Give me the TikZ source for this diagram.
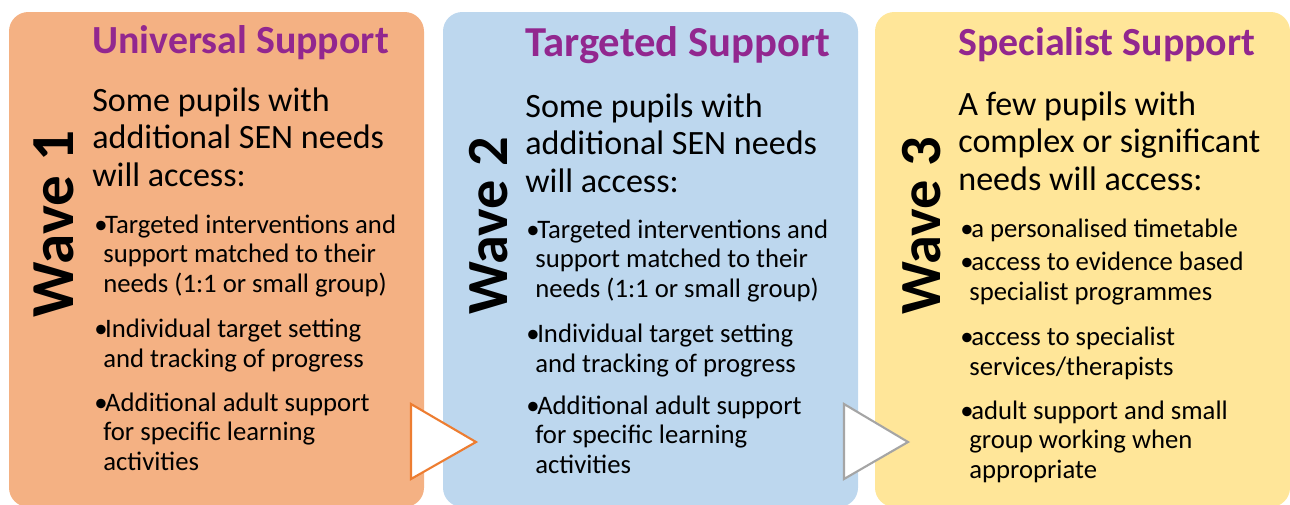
\documentclass[tikz,border=0pt]{standalone}
\usepackage{fontspec}
\setmainfont{Carlito}
\usepackage{tikz}

\definecolor{uniorange}{HTML}{F4B183}
\definecolor{tarblue}{HTML}{BDD7EE}
\definecolor{specyellow}{HTML}{FFE699}
\definecolor{headpurple}{HTML}{92278F}
\definecolor{arrorange}{HTML}{ED7D31}
\definecolor{arrgrey}{HTML}{A5A5A5}

\newcommand{\bul}{\makebox[6.2pt][l]{\textbullet}}
\newcommand{\ind}{\hspace*{5.1pt}}

\tikzset{
	panel/.style={rounded corners=11pt},
	heading/.style={anchor=base west, inner sep=0pt, text=headpurple, font=\bfseries\fontsize{22.7}{26}\selectfont},
	lead/.style={anchor=base west, inner sep=0pt, align=left, font=\fontsize{19.4}{21.1}\selectfont},
	item/.style={anchor=base west, inner sep=0pt, align=left, font=\fontsize{15.2}{16.7}\selectfont},
	wave/.style={anchor=base, rotate=90, inner sep=0pt, font=\bfseries\fontsize{33.2}{34}\selectfont},
	chevron/.style={line width=1.2pt, fill=white, line join=miter},
}

\begin{document}
\begin{tikzpicture}[x=0.02cm, y=-0.02cm]
%	\draw[help lines, step=50] (0,0) grid (1290,504);
	\useasboundingbox (0,0) rectangle (1290,504);

	%panels
	\fill[panel, uniorange] (9,12) rectangle (424,507);
	\fill[panel, tarblue] (443,12) rectangle (858,507);
	\fill[panel, specyellow] (875,12) rectangle (1290,507);

	%wave 1 (multi-line nodes sit on their last line)
	\node[wave, font=\bfseries\fontsize{34.8}{35}\selectfont] (wave1) at (73,224) {Wave 1};
	\node[heading] (head1) at (92,53) {Universal Support};
	\node[lead] (lead1) at (92,186) {Some pupils with\\additional SEN needs\\will access:};
	\node[item] (item11) at (94,292) {\bul Targeted interventions and\\\ind support matched to their\\\ind needs (1:1 or small group)};
	\node[item] (item12) at (94,367) {\bul Individual target setting\\\ind and tracking of progress};
	\node[item] (item13) at (94,470) {\bul Additional adult support\\\ind for specific learning\\\ind activities};

	%wave 2
	\node[wave] (wave2) at (507,226) {Wave 2};
	\node[heading, font=\bfseries\fontsize{24.3}{27}\selectfont] (head2) at (525,56) {Targeted Support};
	\node[lead] (lead2) at (525,192) {Some pupils with\\additional SEN needs\\will access:};
	\node[item] (item21) at (526,297) {\bul Targeted interventions and\\\ind support matched to their\\\ind needs (1:1 or small group)};
	\node[item] (item22) at (526,372) {\bul Individual target setting\\\ind and tracking of progress};
	\node[item] (item23) at (526,473) {\bul Additional adult support\\\ind for specific learning\\\ind activities};

	%wave 3
	\node[wave] (wave3) at (940,226) {Wave 3};
	\node[heading] (head3) at (958,55) {Specialist Support};
	\node[lead] (lead3) at (958,190) {A few pupils with\\complex or significant\\needs will access:};
	\node[item] (item31) at (960,237) {\bul a personalised timetable};
	\node[item] (item32) at (960,300) {\bul access to evidence based\\\ind specialist programmes};
	\node[item] (item33) at (960,375) {\bul access to specialist\\\ind services/therapists};
	\node[item] (item34) at (960,478) {\bul adult support and small\\\ind group working when\\\ind appropriate};

	%chevrons
	\draw[chevron, draw=arrorange] (411,404) -- (476,442) -- (411,479) -- cycle;
	\draw[chevron, draw=arrgrey] (844,404) -- (908,442) -- (844,479) -- cycle;

\end{tikzpicture}
\end{document}
